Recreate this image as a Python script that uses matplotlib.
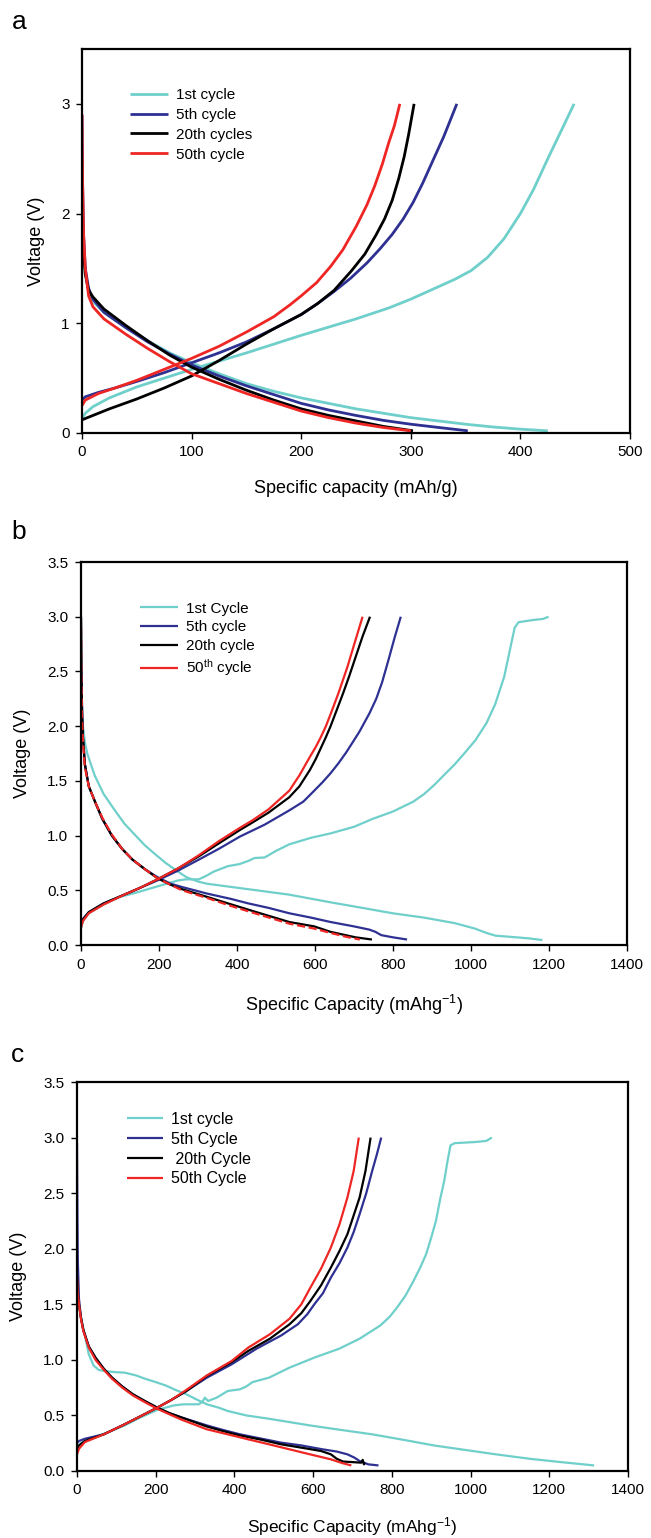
import matplotlib
matplotlib.use("Agg")
import matplotlib.pyplot as plt

plt.rcParams['font.family'] = ['Liberation Sans', 'DejaVu Sans']
plt.rcParams['mathtext.fontset'] = 'custom'
plt.rcParams['mathtext.rm'] = 'Liberation Sans'
plt.rcParams['mathtext.it'] = 'Liberation Sans:italic'
plt.rcParams['axes.linewidth'] = 1.6

CYAN = '#6fcfca'
BLUE = '#2e3192'
BLACK = '#000000'
RED = '#ee2624'

# ---- panel a: (capacity mAh/g, voltage V) ----
a1_dis = [(0, 2.0), (1, 1.7), (3, 1.45), (6, 1.3), (10, 1.2), (20, 1.1), (40, 0.96), (60, 0.84),
          (80, 0.73), (100, 0.64), (125, 0.54), (150, 0.45), (175, 0.38), (200, 0.32), (225, 0.27),
          (250, 0.22), (275, 0.18), (300, 0.14), (325, 0.11), (350, 0.08), (375, 0.055),
          (400, 0.035), (425, 0.02)]
a1_chg = [(0, 0.13), (3, 0.18), (10, 0.24), (25, 0.32), (50, 0.42), (75, 0.5), (100, 0.58),
          (150, 0.73), (200, 0.89), (250, 1.04), (280, 1.14), (300, 1.22), (320, 1.31), (340, 1.4),
          (355, 1.48), (370, 1.6), (385, 1.77), (400, 2.0), (412, 2.22), (425, 2.5), (437, 2.75),
          (449, 3.0)]
a5_dis = [(0, 2.9), (0.5, 2.3), (1.5, 1.8), (3, 1.5), (6, 1.32), (10, 1.22), (20, 1.1), (40, 0.96),
          (60, 0.83), (80, 0.72), (100, 0.62), (125, 0.52), (150, 0.43), (175, 0.35), (200, 0.27),
          (225, 0.21), (250, 0.16), (275, 0.115), (300, 0.08), (330, 0.045), (352, 0.02)]
a5_chg = [(0, 0.3), (3, 0.33), (15, 0.37), (30, 0.41), (50, 0.47), (75, 0.55), (100, 0.64),
          (125, 0.73), (150, 0.83), (175, 0.95), (200, 1.08), (215, 1.18), (230, 1.29), (245, 1.41),
          (260, 1.55), (272, 1.68), (283, 1.81), (293, 1.95), (302, 2.1), (311, 2.28), (320, 2.48),
          (330, 2.7), (342, 3.0)]
a20_dis = [(0, 2.0), (1, 1.7), (3, 1.45), (6, 1.3), (10, 1.24), (20, 1.13), (40, 0.98), (60, 0.84),
           (80, 0.71), (100, 0.6), (125, 0.49), (150, 0.39), (175, 0.3), (200, 0.22), (225, 0.16),
           (250, 0.11), (275, 0.06), (302, 0.02)]
a20_chg = [(0, 0.12), (10, 0.16), (25, 0.22), (50, 0.31), (75, 0.41), (100, 0.52), (125, 0.66),
           (150, 0.81), (175, 0.95), (200, 1.08), (215, 1.18), (230, 1.3), (246, 1.48), (258, 1.63),
           (268, 1.8), (276, 1.95), (283, 2.12), (289, 2.32), (294, 2.52), (298, 2.72), (303, 3.0)]
a50_dis = [(0, 2.9), (0.5, 2.3), (1.5, 1.8), (3, 1.5), (6, 1.25), (10, 1.15), (20, 1.04), (40, 0.9),
           (60, 0.77), (80, 0.65), (100, 0.54), (125, 0.45), (150, 0.36), (175, 0.28), (200, 0.2),
           (225, 0.14), (250, 0.09), (275, 0.05), (300, 0.02)]
a50_chg = [(0, 0.25), (3, 0.3), (15, 0.36), (30, 0.41), (50, 0.48), (75, 0.58), (100, 0.68),
           (125, 0.79), (150, 0.92), (175, 1.06), (190, 1.17), (200, 1.25), (214, 1.37), (227, 1.52),
           (238, 1.67), (250, 1.88), (260, 2.08), (267, 2.25), (274, 2.45), (280, 2.65), (285, 2.8),
           (290, 3.0)]

# ---- panel b ----
b1_dis = [(0, 2.5), (2, 2.2), (5, 2.0), (10, 1.85), (16, 1.75), (35, 1.55), (58, 1.38), (85, 1.24),
          (111, 1.11), (140, 1.0), (164, 0.91), (190, 0.83), (217, 0.75), (245, 0.68), (270, 0.62),
          (300, 0.58), (323, 0.56), (386, 0.53), (450, 0.5), (534, 0.46), (640, 0.39), (720, 0.34),
          (799, 0.29), (880, 0.25), (958, 0.2), (1010, 0.15), (1040, 0.11), (1063, 0.085),
          (1100, 0.075), (1150, 0.06), (1183, 0.045)]
b1_chg = [(0, 0.15), (5, 0.22), (20, 0.29), (58, 0.37), (100, 0.44), (143, 0.48), (200, 0.54),
          (249, 0.59), (270, 0.6), (302, 0.6), (320, 0.63), (340, 0.67), (376, 0.72), (407, 0.74),
          (430, 0.77), (445, 0.795), (471, 0.8), (500, 0.86), (534, 0.92), (590, 0.98), (640, 1.02),
          (700, 1.08), (746, 1.15), (800, 1.22), (852, 1.31), (880, 1.38), (905, 1.46), (930, 1.55),
          (958, 1.65), (985, 1.76), (1011, 1.87), (1040, 2.03), (1062, 2.2), (1085, 2.45),
          (1100, 2.7), (1112, 2.9), (1122, 2.95), (1159, 2.97), (1185, 2.98), (1199, 3.0)]
b5_dis = [(0, 3.0), (1, 2.5), (3, 2.1), (5, 1.9), (10, 1.65), (20, 1.45), (37, 1.3), (55, 1.15),
          (79, 1.0), (105, 0.88), (132, 0.78), (165, 0.69), (196, 0.62), (230, 0.56), (259, 0.53),
          (323, 0.47), (386, 0.42), (429, 0.38), (480, 0.34), (534, 0.29), (590, 0.25), (640, 0.21),
          (700, 0.17), (740, 0.14), (755, 0.12), (770, 0.09), (800, 0.07), (836, 0.05)]
b5_chg = [(0, 0.2), (5, 0.24), (20, 0.3), (58, 0.38), (111, 0.46), (150, 0.52), (196, 0.59),
          (249, 0.68), (302, 0.78), (354, 0.88), (407, 0.99), (471, 1.1), (534, 1.23), (570, 1.31),
          (598, 1.41), (620, 1.49), (640, 1.57), (660, 1.66), (680, 1.76), (698, 1.86), (714, 1.95),
          (740, 2.12), (757, 2.25), (772, 2.4), (788, 2.6), (805, 2.82), (820, 3.0)]
b20_dis = [(0, 3.0), (1, 2.5), (3, 2.1), (5, 1.9), (10, 1.65), (20, 1.45), (37, 1.3), (55, 1.15),
           (79, 1.0), (105, 0.88), (132, 0.78), (165, 0.69), (196, 0.61), (230, 0.55), (259, 0.51),
           (323, 0.44), (386, 0.37), (450, 0.3), (534, 0.21), (598, 0.17), (640, 0.12), (704, 0.07),
           (746, 0.05)]
b20_chg = [(0, 0.18), (5, 0.23), (20, 0.3), (58, 0.38), (111, 0.46), (150, 0.52), (196, 0.6),
           (249, 0.7), (302, 0.81), (354, 0.93), (407, 1.05), (440, 1.12), (481, 1.21), (534, 1.35),
           (560, 1.45), (587, 1.6), (602, 1.7), (615, 1.8), (628, 1.9), (640, 2.0), (656, 2.15),
           (672, 2.3), (688, 2.46), (704, 2.63), (722, 2.82), (741, 3.0)]
b50_dis = [(0, 2.9), (1, 2.4), (3, 2.05), (5, 1.85), (10, 1.62), (20, 1.45), (37, 1.3), (55, 1.16),
           (79, 1.01), (105, 0.88), (132, 0.78), (165, 0.69), (196, 0.61), (230, 0.55), (259, 0.5),
           (323, 0.43), (386, 0.355), (450, 0.285), (534, 0.195), (598, 0.15), (640, 0.11),
           (680, 0.075), (715, 0.05)]
b50_chg = [(0, 0.16), (5, 0.22), (20, 0.29), (58, 0.37), (111, 0.46), (150, 0.52), (196, 0.6),
           (249, 0.7), (302, 0.82), (354, 0.95), (407, 1.07), (440, 1.14), (481, 1.24), (534, 1.41),
           (560, 1.55), (587, 1.72), (602, 1.81), (615, 1.9), (628, 2.0), (640, 2.11), (660, 2.3),
           (683, 2.54), (705, 2.8), (722, 3.0)]

# ---- panel c ----
c1_dis = [(0, 1.9), (2, 1.7), (5, 1.5), (12, 1.35), (21, 1.2), (30, 1.05), (42, 0.95), (55, 0.91),
          (68, 0.9), (95, 0.89), (121, 0.885), (150, 0.86), (173, 0.83), (200, 0.8), (225, 0.77),
          (250, 0.73), (278, 0.69), (300, 0.65), (330, 0.6), (360, 0.57), (383, 0.54), (430, 0.5),
          (488, 0.47), (540, 0.44), (592, 0.41), (650, 0.38), (750, 0.33), (830, 0.28), (907, 0.23),
          (985, 0.19), (1064, 0.15), (1150, 0.11), (1230, 0.08), (1314, 0.05)]
c1_chg = [(0, 0.2), (10, 0.25), (40, 0.3), (80, 0.35), (121, 0.41), (160, 0.48), (204, 0.55),
          (246, 0.59), (270, 0.6), (309, 0.6), (318, 0.62), (325, 0.66), (333, 0.63), (355, 0.66),
          (383, 0.72), (414, 0.735), (430, 0.76), (446, 0.8), (488, 0.84), (540, 0.93), (603, 1.02),
          (666, 1.1), (718, 1.19), (771, 1.31), (795, 1.39), (813, 1.47), (835, 1.58), (855, 1.71),
          (872, 1.83), (887, 1.95), (900, 2.1), (912, 2.25), (923, 2.45), (933, 2.61), (941, 2.78),
          (949, 2.93), (960, 2.95), (1012, 2.96), (1040, 2.97), (1054, 3.0)]
c5_dis = [(0, 2.95), (1, 2.3), (2, 1.9), (5, 1.55), (10, 1.38), (16, 1.27), (30, 1.12), (47, 1.02),
          (68, 0.92), (89, 0.84), (115, 0.76), (142, 0.69), (172, 0.63), (204, 0.57), (235, 0.52),
          (267, 0.48), (330, 0.41), (370, 0.37), (414, 0.33), (470, 0.29), (519, 0.255), (570, 0.23),
          (624, 0.195), (660, 0.175), (687, 0.15), (705, 0.12), (718, 0.09), (740, 0.06), (766, 0.05)]
c5_chg = [(0, 0.25), (5, 0.27), (20, 0.29), (68, 0.33), (121, 0.42), (160, 0.49), (204, 0.57),
          (240, 0.64), (278, 0.72), (330, 0.84), (393, 0.96), (456, 1.1), (519, 1.22), (561, 1.32),
          (585, 1.41), (603, 1.5), (625, 1.6), (645, 1.74), (667, 1.87), (687, 2.01), (703, 2.15),
          (718, 2.31), (735, 2.5), (750, 2.7), (762, 2.85), (773, 3.0)]
c20_dis = [(0, 1.75), (2, 1.6), (5, 1.5), (10, 1.38), (16, 1.27), (30, 1.12), (47, 1.02), (68, 0.92),
           (89, 0.84), (115, 0.76), (142, 0.69), (172, 0.63), (204, 0.57), (235, 0.52), (267, 0.48),
           (330, 0.4), (370, 0.36), (414, 0.32), (470, 0.28), (519, 0.24), (570, 0.21), (620, 0.18),
           (645, 0.15), (660, 0.11), (676, 0.085), (700, 0.08), (722, 0.075), (726, 0.1), (729, 0.06),
           (731, 0.075)]
c20_chg = [(0, 0.2), (5, 0.23), (20, 0.27), (68, 0.33), (121, 0.42), (160, 0.49), (204, 0.57),
           (240, 0.64), (278, 0.72), (330, 0.855), (393, 0.98), (435, 1.08), (490, 1.19), (540, 1.32),
           (570, 1.42), (593, 1.53), (620, 1.67), (645, 1.83), (667, 1.98), (687, 2.13), (703, 2.3),
           (718, 2.46), (733, 2.7), (746, 3.0)]
c50_dis = [(0, 1.75), (2, 1.6), (5, 1.5), (10, 1.37), (16, 1.26), (30, 1.11), (47, 1.0), (68, 0.91),
           (89, 0.83), (115, 0.75), (142, 0.68), (172, 0.62), (204, 0.56), (235, 0.51), (267, 0.46),
           (330, 0.375), (383, 0.33), (435, 0.285), (488, 0.24), (540, 0.195), (592, 0.15),
           (645, 0.105), (675, 0.07), (697, 0.05)]
c50_chg = [(0, 0.15), (5, 0.2), (20, 0.26), (68, 0.33), (121, 0.42), (160, 0.49), (204, 0.57),
           (240, 0.64), (278, 0.73), (330, 0.86), (393, 0.99), (435, 1.11), (490, 1.23), (540, 1.37),
           (570, 1.5), (593, 1.65), (620, 1.82), (645, 2.01), (667, 2.22), (687, 2.46), (703, 2.7),
           (716, 3.0)]

labels_a = ['1st cycle', '5th cycle', '20th cycles', '50th cycle']
labels_b = ['1st Cycle', '5th cycle', '20th cycle', r'50$^{\mathrm{th}}$ cycle']
labels_c = ['1st cycle', '5th Cycle', ' 20th Cycle', '50th Cycle']
colors = [CYAN, BLUE, BLACK, RED]


def draw_cycle(ax, dis, chg, color, label, lw, dis_style='-'):
    ax.plot([p[0] for p in dis], [p[1] for p in dis], color=color, lw=lw,
            ls=dis_style, solid_capstyle='butt', solid_joinstyle='round')
    ax.plot([p[0] for p in chg], [p[1] for p in chg], color=color, lw=lw,
            label=label, solid_capstyle='butt', solid_joinstyle='round')


def style_axes(ax, xmax, xstep, yticks, yfmt, xlabel, family, xl_y, yl_x, xl_size=13):
    ax.set_xlim(0, xmax)
    ax.set_ylim(0, 3.5)
    ax.set_xticks(range(0, xmax + 1, xstep))
    ax.set_yticks(yticks)
    ax.set_yticklabels([yfmt.format(v) for v in yticks])
    ax.tick_params(direction='out', length=4, width=1.0, labelsize=11, pad=5)
    for lab in ax.get_xticklabels() + ax.get_yticklabels():
        lab.set_family(family)
    ax.set_xlabel(xlabel, fontsize=xl_size, family=family)
    ax.set_ylabel('Voltage (V)', fontsize=13, family=family)
    # label coords: top edge of the x label, right edge of the y label
    ax.xaxis.set_label_coords(0.5, xl_y)
    ax.yaxis.set_label_coords(yl_x, 0.5)


fig = plt.figure(figsize=(6.51, 15.38), dpi=100)
W, H = 651.0, 1538.0


def add_axes_px(left, top, right, bottom):
    return fig.add_axes([left / W, 1 - bottom / H, (right - left) / W, (bottom - top) / H])


# a
ax_a = add_axes_px(82, 49, 630, 433)
for (dis, chg), c, lab in zip([(a1_dis, a1_chg), (a5_dis, a5_chg), (a20_dis, a20_chg), (a50_dis, a50_chg)],
                              colors, labels_a):
    draw_cycle(ax_a, dis, chg, c, lab, lw=2.0)
style_axes(ax_a, 500, 100, [0, 1, 2, 3], '{:.0f}', 'Specific capacity (mAh/g)',
           ['Liberation Sans', 'DejaVu Sans'], -0.122, -0.068)
ax_a.legend(loc='upper left', bbox_to_anchor=(0.088, 0.898), frameon=False, fontsize=11,
            handlelength=2.5, handletextpad=0.5, labelspacing=0.38, borderaxespad=0, borderpad=0)

# b
ax_b = add_axes_px(81, 562, 627, 945)
for (dis, chg), c, lab in zip([(b1_dis, b1_chg), (b5_dis, b5_chg), (b20_dis, b20_chg), (b50_dis, b50_chg)],
                              colors, labels_b):
    draw_cycle(ax_b, dis, chg, c, lab, lw=1.6, dis_style='--' if c == RED else '-')
style_axes(ax_b, 1400, 200, [0, 0.5, 1, 1.5, 2, 2.5, 3, 3.5], '{:.1f}',
           r'Specific Capacity (mAhg$^{-1}$)', ['Liberation Sans', 'DejaVu Sans'], -0.125, -0.092)
ax_b.legend(loc='upper left', bbox_to_anchor=(0.108, 0.896), frameon=False, fontsize=11,
            handlelength=2.5, handletextpad=0.5, labelspacing=0.3, borderaxespad=0, borderpad=0)

# c
ax_c = add_axes_px(77, 1082, 628, 1471)
narrow = ['Liberation Sans Narrow', 'Liberation Sans', 'DejaVu Sans']
for (dis, chg), c, lab in zip([(c1_dis, c1_chg), (c5_dis, c5_chg), (c20_dis, c20_chg), (c50_dis, c50_chg)],
                              colors, labels_c):
    draw_cycle(ax_c, dis, chg, c, lab, lw=1.6)
style_axes(ax_c, 1400, 200, [0, 0.5, 1, 1.5, 2, 2.5, 3, 3.5], '{:.1f}',
           r'Specific Capacity (mAhg$^{-1}$)', narrow, -0.113, -0.091, xl_size=12.5)
leg = ax_c.legend(loc='upper left', bbox_to_anchor=(0.09, 0.923), frameon=False, fontsize=11.5,
                  handlelength=2.3, handletextpad=0.5, labelspacing=0.3, borderaxespad=0, borderpad=0)
for t in leg.get_texts():
    t.set_family(narrow)

for ax in (ax_a, ax_b, ax_c):
    for s in ax.spines.values():
        s.set_linewidth(1.6)

fig.text(19 / W, 1 - 22 / H, 'a', fontsize=19, ha='center', va='center')
fig.text(19 / W, 1 - 532 / H, 'b', fontsize=19, ha='center', va='center')
fig.text(17 / W, 1 - 1055 / H, 'c', fontsize=19, ha='center', va='center')

fig.savefig('out.png', dpi=100)
